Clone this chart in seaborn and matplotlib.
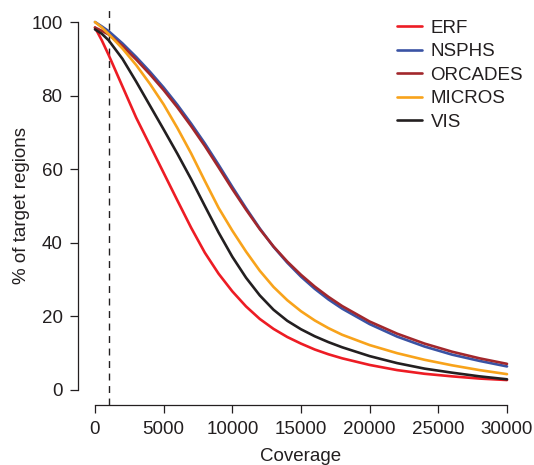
import pandas as pd
import matplotlib
matplotlib.use('Agg')
import matplotlib.pyplot as plt
import seaborn as sns

# coverage grid and % of target regions
coverage = [0, 500, 1000, 2000, 3000, 4000, 5000, 6000, 7000, 8000, 9000, 10000,
            11000, 12000, 13000, 14000, 15000, 16000, 17000, 18000, 20000, 22000,
            24000, 26000, 28000, 30000]

erf = [98.5, 95, 91, 82.5, 74, 66.5, 59, 51.5, 44.1, 37.3, 31.6, 26.8,
       22.7, 19.3, 16.6, 14.4, 12.6, 11.0, 9.7, 8.6, 6.8, 5.4, 4.4, 3.7, 3.1, 2.7]
nsphs = [100, 98.8, 97.5, 94.2, 90.5, 86.5, 82.2, 77.5, 72.4, 67.0, 61.2, 55.2,
         49.4, 43.9, 38.9, 34.6, 30.8, 27.5, 24.6, 22.1, 17.9, 14.5, 11.8, 9.6, 7.9, 6.4]
orcades = [98.5, 97.6, 96.6, 93.5, 89.8, 85.8, 81.5, 76.8, 71.7, 66.3, 60.5, 54.6,
           49.0, 43.7, 39.0, 34.9, 31.3, 28.1, 25.3, 22.8, 18.6, 15.3, 12.6, 10.4, 8.6, 7.1]
micros = [100, 98.5, 96.7, 92.8, 88.3, 83.2, 77.6, 71.2, 64.3, 56.8, 49.5, 43.3,
          37.6, 32.4, 28.0, 24.4, 21.4, 18.9, 16.8, 15.0, 12.2, 10.0, 8.2, 6.7, 5.4, 4.3]
vis = [98, 96.8, 95, 90, 83.8, 77.3, 70.8, 64.2, 57.3, 50, 42.8, 36.2,
       30.5, 25.7, 21.8, 18.8, 16.5, 14.6, 13.0, 11.6, 9.2, 7.3, 5.8, 4.7, 3.7, 2.9]

cohorts = ['ERF', 'NSPHS', 'ORCADES', 'MICROS', 'VIS']
colors = ['#ED1C24', '#3A53A4', '#A2272C', '#F8A31B', '#231F20']

rows = []
for name, vals in zip(cohorts, [erf, nsphs, orcades, micros, vis]):
    for c, v in zip(coverage, vals):
        rows.append({'Coverage': c, 'pct': v, 'Cohort': name})
df = pd.DataFrame(rows)

sns.set_style('ticks')
plt.rcParams['font.family'] = ['Liberation Sans', 'DejaVu Sans']
plt.rcParams['text.color'] = '#231F20'
plt.rcParams['axes.labelcolor'] = '#231F20'
plt.rcParams['xtick.color'] = '#231F20'
plt.rcParams['ytick.color'] = '#231F20'

fig = plt.figure(figsize=(5.34, 4.65), dpi=100)
ax = fig.add_axes([0.147, 0.1297, 0.8333, 0.8546])

# dashed marker at coverage 1000
ax.axvline(1000, color='#231F20', lw=1, ls=(0, (5, 4)))
sns.lineplot(data=df, x='Coverage', y='pct', hue='Cohort', hue_order=cohorts,
             palette=dict(zip(cohorts, colors)), lw=1.9, sort=False, ax=ax)

ax.set_xlim(-1200, 31200)
ax.set_ylim(-4, 104)
ax.set_xticks([0, 5000, 10000, 15000, 20000, 25000, 30000])
ax.set_yticks([0, 20, 40, 60, 80, 100])
for s in ['top', 'right']:
    ax.spines[s].set_visible(False)
ax.spines['left'].set_bounds(0, 100)
ax.spines['bottom'].set_bounds(0, 30000)
for s in ['left', 'bottom']:
    ax.spines[s].set_linewidth(0.9)
    ax.spines[s].set_color('#231F20')
ax.tick_params(direction='out', length=5.5, width=0.9, labelsize=13.5, pad=6)

ax.set_xlabel('Coverage', fontsize=13.5)
ax.set_ylabel('% of target regions', fontsize=13.5)
ax.xaxis.set_label_coords(0.5, -0.109)
ax.yaxis.set_label_coords(-0.11, 0.5)

handles, labels = ax.get_legend_handles_labels()
ax.legend(handles, labels, loc='upper left', bbox_to_anchor=(0.743, 0.958),
          bbox_transform=fig.transFigure, frameon=False, fontsize=13.5,
          borderpad=0, borderaxespad=0, handlelength=1.35, handletextpad=0.45,
          labelspacing=0.34)

fig.savefig('out.png', dpi=100)
